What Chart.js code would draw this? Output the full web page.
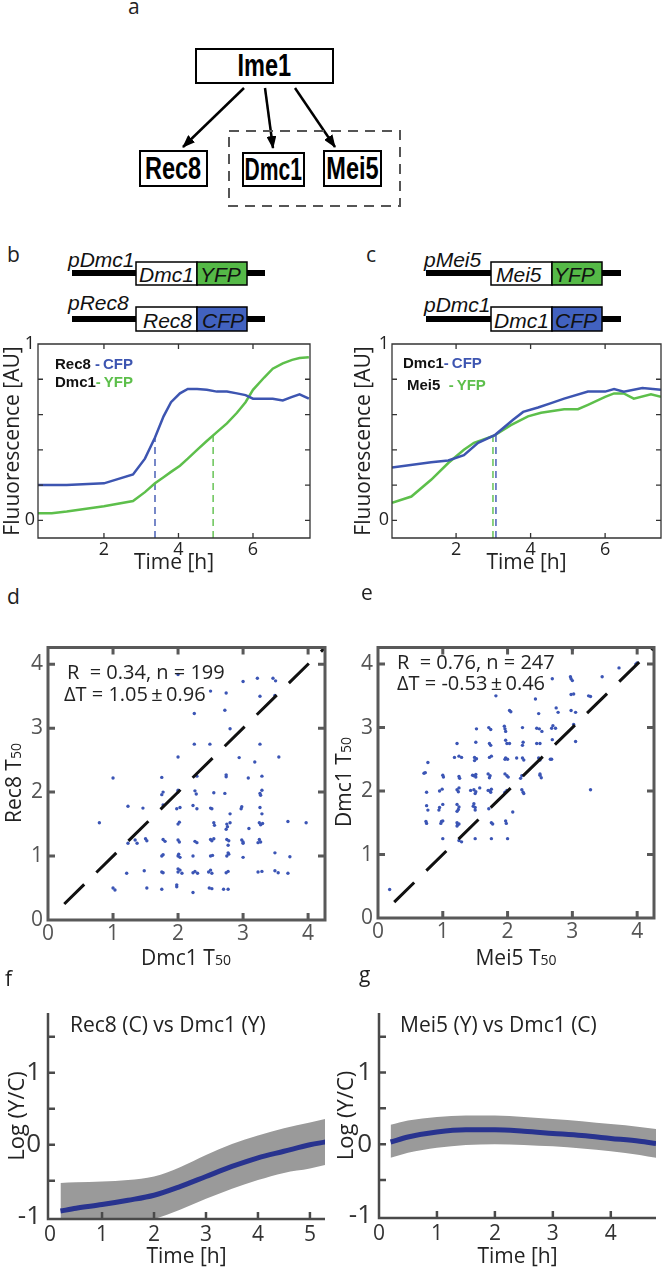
<!DOCTYPE html>
<html>
<head>
<meta charset="utf-8">
<script src="https://cdn.jsdelivr.net/npm/chart.js@4.4.1/dist/chart.umd.min.js"></script>
<style>
body{margin:0;background:#fff;width:663px;height:1271px;position:relative;overflow:hidden;font-family:'Open Sans',sans-serif;}
canvas{position:absolute;}
.t{position:absolute;white-space:pre;line-height:1;color:#222;}
.lbl{font-size:21px;}
.gene{position:absolute;border:2.5px solid #000;box-sizing:border-box;display:flex;align-items:center;justify-content:center;font-family:'Liberation Sans',Arial,sans-serif;font-weight:bold;font-size:31px;background:#fff;}
.gene span{display:inline-block;transform:scaleX(0.76);}
.it{font-family:'Liberation Sans',Arial,sans-serif;font-style:italic;font-size:21px;color:#111;}
.leg{font-family:'Liberation Sans',Arial,sans-serif;font-weight:bold;font-size:15px;color:#111;}
.ann{font-size:20px;}
.ax{font-size:21px;}
.ax small{font-size:14px;}
.rot{transform:translate(-50%,-50%) rotate(-90deg);}
.ctr{transform:translate(-50%,-50%);}
</style>
</head>
<body>

<!-- panel a + constructs -->
<svg width="663" height="340" style="position:absolute;left:0;top:0">
  <defs>
    <marker id="ah" markerWidth="13" markerHeight="10" refX="12" refY="5" orient="auto" markerUnits="userSpaceOnUse">
      <path d="M0,0 L13,5 L0,10 z" fill="#000"/>
    </marker>
  </defs>
  <line x1="244" y1="88" x2="183" y2="147" stroke="#000" stroke-width="2.5" marker-end="url(#ah)"/>
  <line x1="265" y1="88" x2="273" y2="148" stroke="#000" stroke-width="2.5" marker-end="url(#ah)"/>
  <line x1="295" y1="88" x2="335" y2="147" stroke="#000" stroke-width="2.5" marker-end="url(#ah)"/>
  <rect x="229" y="131" width="171" height="75" fill="none" stroke="#555" stroke-width="2" stroke-dasharray="10,7"/>

  <rect x="72" y="270" width="193" height="6" fill="#000"/>
  <rect x="136" y="262" width="61" height="23" fill="#fff" stroke="#000" stroke-width="1.5"/>
  <rect x="197" y="262" width="50" height="23" fill="#55b947" stroke="#000" stroke-width="1.5"/>
  <rect x="72" y="316" width="193" height="6" fill="#000"/>
  <rect x="136" y="307" width="61" height="24" fill="#fff" stroke="#000" stroke-width="1.5"/>
  <rect x="197" y="307" width="50" height="24" fill="#4262c0" stroke="#000" stroke-width="1.5"/>

  <rect x="426" y="270" width="195" height="6" fill="#000"/>
  <rect x="491" y="262" width="61" height="23" fill="#fff" stroke="#000" stroke-width="1.5"/>
  <rect x="552" y="262" width="50" height="23" fill="#55b947" stroke="#000" stroke-width="1.5"/>
  <rect x="426" y="316" width="195" height="6" fill="#000"/>
  <rect x="491" y="307" width="61" height="24" fill="#fff" stroke="#000" stroke-width="1.5"/>
  <rect x="552" y="307" width="50" height="24" fill="#4262c0" stroke="#000" stroke-width="1.5"/>
</svg>

<div class="t lbl" style="left:128px;top:-4px">a</div>
<div class="gene" style="left:195px;top:48px;width:139px;height:36px"><span>Ime1</span></div>
<div class="gene" style="left:139px;top:150px;width:69px;height:37px"><span>Rec8</span></div>
<div class="gene" style="left:242px;top:152px;width:63px;height:35px"><span style="transform:scaleX(0.68)">Dmc1</span></div>
<div class="gene" style="left:323px;top:150px;width:59px;height:37px"><span>Mei5</span></div>

<div class="t lbl" style="left:7px;top:244px">b</div>
<div class="t it" style="left:68px;top:249px">pDmc1</div>
<div class="t it" style="left:139px;top:264px">Dmc1</div>
<div class="t it" style="left:200px;top:264px">YFP</div>
<div class="t it" style="left:68px;top:292px">pRec8</div>
<div class="t it" style="left:143px;top:310px">Rec8</div>
<div class="t it" style="left:202px;top:310px">CFP</div>

<div class="t lbl" style="left:366px;top:244px">c</div>
<div class="t it" style="left:424px;top:249px">pMei5</div>
<div class="t it" style="left:496px;top:264px">Mei5</div>
<div class="t it" style="left:554px;top:264px">YFP</div>
<div class="t it" style="left:424px;top:294px">pDmc1</div>
<div class="t it" style="left:494px;top:310px">Dmc1</div>
<div class="t it" style="left:555px;top:310px">CFP</div>

<canvas id="chB"></canvas>
<canvas id="chC"></canvas>
<canvas id="chD"></canvas>
<canvas id="chE"></canvas>
<canvas id="chF"></canvas>
<canvas id="chG"></canvas>

<div class="t leg" style="left:55px;top:356px">Rec8<span style="color:#3d55b1"> -&#8201;CFP</span></div>
<div class="t leg" style="left:55px;top:374px">Dmc1<span style="color:#5dbf4b">-&#8201;YFP</span></div>
<div class="t leg" style="left:403px;top:355px">Dmc1<span style="color:#3d55b1">-&#8201;CFP</span></div>
<div class="t leg" style="left:407px;top:377px">Mei5<span style="color:#5dbf4b">  -&#8201;YFP</span></div>

<div class="t lbl" style="left:7px;top:586px">d</div>
<div class="t lbl" style="left:361px;top:582px">e</div>
<div class="t ann" style="left:67px;top:662px">R  = 0.34, n = 199</div>
<div class="t ann" style="left:64px;top:684px">ΔT = 1.05&#8201;±&#8201;0.96</div>
<div class="t ann" style="left:397px;top:652px">R  = 0.76, n = 247</div>
<div class="t ann" style="left:397px;top:673px">ΔT = -0.53&#8201;±&#8201;0.46</div>
<div class="t ax rot" style="left:13px;top:783px">Rec8 T<small>50</small></div>
<div class="t ax ctr" style="left:186px;top:957px">Dmc1 T<small>50</small></div>
<div class="t ax rot" style="left:343px;top:782px">Dmc1 T<small>50</small></div>
<div class="t ax ctr" style="left:516px;top:957px">Mei5 T<small>50</small></div>

<div class="t lbl" style="left:5px;top:968px">f</div>
<div class="t lbl" style="left:359px;top:964px">g</div>
<div class="t lbl" style="left:70px;top:1014px">Rec8 (C) vs Dmc1 (Y)</div>
<div class="t lbl" style="left:400px;top:1014px">Mei5 (Y) vs Dmc1 (C)</div>

<script>
// ---- data ----
// panel b: Rec8-CFP and Dmc1-YFP fluorescence
const bTime = [0.23, 0.6, 1, 2, 2.78, 3.1, 3.37, 3.6, 3.8, 4.04, 4.25, 4.5, 4.76, 5.03, 5.3, 5.57, 5.8, 6.0, 6.3, 6.53, 6.8, 7.05, 7.25, 7.5];
const bRec8 = [0.2, 0.2, 0.2, 0.21, 0.26, 0.35, 0.47, 0.59, 0.67, 0.72, 0.745, 0.745, 0.74, 0.73, 0.73, 0.72, 0.71, 0.69, 0.69, 0.69, 0.68, 0.70, 0.715, 0.69];
const bDmc1 = [0.04, 0.04, 0.05, 0.08, 0.11, 0.16, 0.21, 0.245, 0.275, 0.31, 0.35, 0.40, 0.45, 0.50, 0.55, 0.61, 0.67, 0.74, 0.81, 0.86, 0.89, 0.91, 0.92, 0.925];
const bT50 = [3.37, 4.93];          // Rec8, Dmc1
const bT50Level = [0.47, 0.48];

// panel c: Dmc1-CFP and Mei5-YFP fluorescence
const cDmc1Time = [0.28, 1.33, 1.79, 2.21, 2.59, 3.05, 3.53, 3.8, 4.2, 4.55, 4.9, 5.54, 6.0, 6.24, 6.5, 7.0, 7.5];
const cDmc1 = [0.30, 0.33, 0.34, 0.37, 0.44, 0.485, 0.57, 0.615, 0.64, 0.665, 0.69, 0.73, 0.73, 0.745, 0.73, 0.75, 0.74];
const cMei5Time = [0.28, 0.8, 1.33, 1.79, 2.21, 2.48, 3.02, 3.47, 3.93, 4.28, 4.9, 5.27, 5.54, 6.0, 6.24, 6.5, 6.77, 7.23, 7.5];
const cMei5 = [0.10, 0.135, 0.23, 0.325, 0.40, 0.44, 0.48, 0.54, 0.59, 0.61, 0.63, 0.63, 0.655, 0.70, 0.72, 0.72, 0.69, 0.715, 0.70];
const cT50 = [3.07, 2.99];          // Dmc1, Mei5
const cT50Level = [0.49, 0.48];

const timeTicks = [2, 4, 6];
const fluoTicks = [0, 0.2, 0.4, 0.6, 0.8, 1];
const fluoLabels = [0, 1];

// panel d: Dmc1 T50 (x) vs Rec8 T50 (y)
const dPoints = [
  [2.0,3.84],[3.0,3.73],[3.22,3.78],[3.46,3.78],[3.5,3.74],[2.5,3.58],[2.74,3.55],[3.26,3.5],[3.49,3.51],
  [2.25,3.23],[2.72,3.28],[2.8,2.99],[2.25,2.75],[2.49,2.75],[3.26,2.75],[2.0,2.55],[2.94,2.54],[3.18,2.47],[3.55,2.55],
  [1.0,2.22],[1.75,2.23],[2.29,2.25],[2.74,2.27],[2.74,2.24],[3.08,2.22],[3.29,2.25],
  [1.77,2.0],[1.75,1.96],[2.0,2.03],[2.0,2.0],[2.26,2.02],[2.28,1.97],[2.55,1.99],[2.72,1.98],[3.26,1.98],[3.29,2.03],[3.27,1.95],
  [1.77,1.8],[1.23,1.78],[1.46,1.75],[1.98,1.74],[2.03,1.76],[2.23,1.79],[2.29,1.74],[2.5,1.75],[2.52,1.74],[2.8,1.66],[2.97,1.74],[2.98,1.77],[3.26,1.76],[3.29,1.66],
  [0.79,1.52],[2.0,1.5],[2.02,1.53],[2.55,1.52],[2.56,1.48],[2.75,1.5],[2.76,1.46],[2.8,1.52],[2.74,1.42],[3.09,1.43],[3.25,1.52],[3.27,1.49],[3.3,1.51],[3.69,1.54],[3.97,1.52],
  [1.34,1.25],[1.5,1.27],[1.52,1.24],[1.77,1.26],[1.8,1.23],[2.0,1.25],[2.02,1.22],[2.26,1.23],[2.29,1.21],[2.5,1.26],[2.52,1.24],[2.55,1.27],[2.75,1.26],[2.78,1.24],[2.98,1.25],[3.0,1.22],[3.25,1.26],[3.27,1.22],
  [1.23,1.2],[1.37,1.2],[2.77,1.17],[3.0,1.2],[3.23,1.21],
  [1.75,1.0],[1.77,1.02],[2.0,1.0],[2.01,1.03],[2.03,0.98],[2.23,1.0],[2.5,1.0],[2.53,1.01],[2.75,1.0],[2.78,1.03],[3.0,0.98],[3.49,1.05],[3.72,0.99],[2.77,1.05],
  [1.21,0.73],[1.48,0.77],[1.75,0.75],[1.77,0.74],[2.0,0.75],[2.03,0.78],[2.06,0.73],[2.23,0.74],[2.26,0.76],[2.3,0.73],[2.47,0.75],[2.52,0.73],[2.5,0.78],[2.74,0.74],[2.77,0.76],[3.23,0.75],[3.29,0.76],[3.49,0.77],[3.54,0.74],[3.69,0.73],
  [2.0,0.8],[1.98,0.55],
  [1.0,0.5],[1.03,0.47],[1.52,0.5],[1.75,0.48],[1.98,0.52],[2.23,0.43],[2.48,0.5],[2.52,0.49],[2.7,0.48],[2.77,0.48]
];

// panel e: Mei5 T50 (x) vs Dmc1 T50 (y)
const ePoints = [
  [3.98,4.0],[4.0,4.02],[3.72,3.94],[3.46,3.8],[2.98,3.77],[3.0,3.74],[2.97,3.8],[2.69,3.77],[3.0,4.23],
  [2.98,3.52],[3.02,3.53],[3.25,3.5],[3.28,3.49],[2.43,3.45],[1.82,3.5],
  [2.03,3.27],[2.05,3.25],[2.48,3.22],[2.75,3.31],[2.78,3.24],[2.98,3.27],[3.05,3.24],
  [1.52,2.98],[1.71,3.0],[1.74,2.97],[1.95,3.02],[1.96,2.98],[1.97,2.94],[2.23,3.0],[2.45,2.99],[2.49,2.98],[2.53,2.94],[2.68,2.99],[2.7,3.03],[2.74,2.99],[3.02,3.05],
  [1.22,2.75],[1.51,2.77],[1.72,2.75],[1.74,2.72],[1.97,2.8],[1.99,2.75],[2.03,2.75],[2.23,2.72],[2.24,2.77],[2.45,2.75],[2.5,2.75],[2.69,2.81],[3.05,2.78],
  [0.77,2.45],[0.71,2.28],[0.73,2.29],[1.18,2.53],[1.25,2.55],[1.29,2.53],[1.49,2.53],[1.52,2.51],[1.49,2.48],[1.72,2.53],[1.75,2.55],[1.97,2.52],[2.0,2.5],[1.96,2.5],[2.14,2.52],[2.23,2.52],[2.25,2.49],[2.48,2.52],[2.5,2.49],[2.68,2.5],[2.66,2.5],
  [1.0,2.25],[1.01,2.22],[1.25,2.23],[1.26,2.2],[1.46,2.25],[1.48,2.24],[1.51,2.26],[1.51,2.22],[1.7,2.27],[1.73,2.24],[1.72,2.21],[1.96,2.27],[1.99,2.24],[2.01,2.22],[2.22,2.24],[2.2,2.2],[2.5,2.25],[2.52,2.21],[2.5,2.27],
  [0.75,1.98],[0.95,2.0],[0.99,2.03],[1.22,2.02],[1.25,2.05],[1.24,1.99],[1.43,2.01],[1.48,2.02],[1.51,1.99],[1.5,1.96],[1.57,2.05],[1.7,2.01],[1.73,2.0],[1.75,2.03],[1.74,1.98],[1.96,1.98],[1.99,2.01],[2.22,2.02],[2.24,1.98],[2.25,1.96],[3.28,2.02],
  [0.75,1.77],[0.77,1.7],[0.95,1.74],[0.94,1.7],[1.0,1.79],[1.22,1.79],[1.25,1.75],[1.24,1.71],[1.22,1.68],[1.47,1.76],[1.5,1.74],[1.5,1.7],[1.48,1.8],[1.71,1.72],[2.08,1.67],
  [0.74,1.52],[0.75,1.49],[0.98,1.52],[0.97,1.49],[1.22,1.5],[1.25,1.48],[1.22,1.45],[1.75,1.5],[1.77,1.48],[1.97,1.53],[1.98,1.49],[1.0,1.53],[1.23,1.47],
  [1.0,1.25],[1.25,1.22],[1.29,1.2],[1.5,1.25],[1.75,1.25],[2.0,1.25],
  [0.18,0.45]
];
const diagLine = [0.25, 4.3];       // y = x reference
const t50Ticks = [0, 1, 2, 3, 4];

// panel f: log(Y/C), Rec8 (C) vs Dmc1 (Y)
const fTime = [0.2, 0.5, 1, 1.5, 2, 2.5, 3, 3.5, 4, 4.5, 5, 5.3];
const fMean = [-0.92, -0.88, -0.83, -0.77, -0.70, -0.58, -0.44, -0.30, -0.18, -0.09, 0.0, 0.04];
const fUpper = [-0.53, -0.52, -0.51, -0.49, -0.44, -0.31, -0.14, 0.01, 0.13, 0.23, 0.31, 0.36];
const fLower = [-1.32, -1.26, -1.18, -1.11, -1.03, -0.9, -0.75, -0.61, -0.49, -0.39, -0.33, -0.28];

// panel g: log(Y/C), Mei5 (Y) vs Dmc1 (C)
const gTime = [0.2, 0.5, 1, 1.5, 2, 2.5, 3, 3.5, 4, 4.5, 4.78];
const gMean = [0.03, 0.10, 0.17, 0.20, 0.20, 0.18, 0.15, 0.12, 0.08, 0.04, 0.01];
const gUpper = [0.27, 0.33, 0.38, 0.40, 0.40, 0.38, 0.35, 0.32, 0.28, 0.24, 0.21];
const gLower = [-0.19, -0.12, -0.05, -0.01, 0.0, -0.01, -0.03, -0.06, -0.10, -0.15, -0.19];

const logTicks = [-1, -0.5, 0, 0.5, 1, 1.5];
const logLabels = [-1, 0, 1];
const fTimeTicks = [0, 1, 2, 3, 4, 5];
const gTimeTicks = [0, 1, 2, 3, 4];

// ---- styling ----
const blue = '#3d55b1', green = '#5dbf4b', dotBlue = '#3b55b5', navy = '#28338f', band = '#9a9a9a';

Chart.defaults.font.family = "'Open Sans', sans-serif";
Chart.defaults.animation = false;

// box / axes with inward ticks, drawn from the scales
const framePlugin = {
  id: 'frame',
  afterDatasetsDraw(chart, args, o) {
    if (!o || !o.color) return;
    const {ctx, chartArea: a} = chart;
    const xs = chart.scales.x, ys = chart.scales.y;
    ctx.save();
    ctx.strokeStyle = o.color;
    ctx.lineWidth = o.width;
    ctx.beginPath();
    if (o.box) {
      ctx.rect(a.left, a.top, a.right - a.left, a.bottom - a.top);
    } else {
      ctx.moveTo(a.left, a.top);
      ctx.lineTo(a.left, a.bottom);
      ctx.lineTo(a.right, a.bottom);
    }
    xs.ticks.forEach(t => {
      const p = xs.getPixelForValue(t.value);
      if (p < a.left + 3 || p > a.right - 3) return;
      ctx.moveTo(p, a.bottom); ctx.lineTo(p, a.bottom - o.len);
      if (o.box) { ctx.moveTo(p, a.top); ctx.lineTo(p, a.top + o.len); }
    });
    ys.ticks.forEach(t => {
      const p = ys.getPixelForValue(t.value);
      if (p < a.top + 3 || p > a.bottom - 3) return;
      ctx.moveTo(a.left, p); ctx.lineTo(a.left + o.len, p);
      if (o.box) { ctx.moveTo(a.right, p); ctx.lineTo(a.right - o.len, p); }
    });
    ctx.stroke();
    ctx.restore();
  }
};
Chart.register(framePlugin);

function place(id, l, t, w, h) {
  const c = document.getElementById(id);
  c.width = w; c.height = h;
  c.style.left = l + 'px'; c.style.top = t + 'px';
  c.style.width = w + 'px'; c.style.height = h + 'px';
  return c;
}

function axis(o) {
  return {
    type: 'linear', min: o.min, max: o.max,
    afterBuildTicks: s => { s.ticks = o.ticks.map(v => ({value: v})); },
    afterFit: s => { if (o.horizontal) s.height = o.size; else s.width = o.size; },
    grid: {display: false, drawTicks: false},
    border: {display: false},
    ticks: {
      autoSkip: false, maxRotation: 0, padding: o.pad, color: o.color, font: {size: o.font},
      callback: v => (o.show.includes(v) ? String(v) : '')
    },
    title: o.title ? {display: true, text: o.title, color: '#222', font: {size: o.titleSize}, padding: o.titlePad} : {display: false}
  };
}

const pts = (xs, ys) => xs.map((x, i) => ({x: x, y: ys[i]}));

function build(id, pos, area, type, datasets, xAxis, yAxis, frame) {
  xAxis.horizontal = true;
  xAxis.size = pos.t + pos.h - area.B;
  yAxis.size = area.L - pos.l;
  return new Chart(place(id, pos.l, pos.t, pos.w, pos.h), {
    type: type,
    data: {datasets: datasets},
    options: {
      responsive: false,
      animation: false,
      layout: {padding: {left: 0, bottom: 0, top: area.T - pos.t, right: pos.l + pos.w - area.R}},
      plugins: {legend: {display: false}, tooltip: {enabled: false}, frame: frame},
      scales: {x: axis(xAxis), y: axis(yAxis)}
    }
  });
}

function curve(data, color) {
  return {data: data, borderColor: color, borderWidth: 2.5, pointRadius: 0, tension: 0, fill: false};
}
function dropLine(x, y0, y1, color) {
  return {data: [{x: x, y: y0}, {x: x, y: y1}], borderColor: color, borderWidth: 1.4, borderDash: [7, 5], pointRadius: 0, fill: false};
}

// ---- panel b ----
build('chB', {l: 0, t: 330, w: 331, h: 250}, {L: 38, T: 344, R: 310, B: 538}, 'line', [
  curve(pts(bTime, bRec8), blue),
  curve(pts(bTime, bDmc1), green),
  dropLine(bT50[0], -0.1, bT50Level[0], blue),
  dropLine(bT50[1], -0.1, bT50Level[1], green)
],
{min: 0.23, max: 7.53, ticks: timeTicks, show: timeTicks, pad: 1, color: '#222', font: 18, title: 'Time [h]', titleSize: 21, titlePad: {top: 0, bottom: 4}},
{min: -0.1, max: 1, ticks: fluoTicks, show: fluoLabels, pad: 3, color: '#222', font: 18, title: 'Fluuorescence [AU]', titleSize: 21, titlePad: {top: 0, bottom: 0}},
{color: '#333', width: 1.3, len: 5, box: true});

// ---- panel c ----
build('chC', {l: 331, t: 330, w: 332, h: 250}, {L: 392, T: 344, R: 661, B: 538}, 'line', [
  curve(pts(cDmc1Time, cDmc1), blue),
  curve(pts(cMei5Time, cMei5), green),
  dropLine(cT50[0], -0.1, cT50Level[0], blue),
  dropLine(cT50[1], -0.1, cT50Level[1], green)
],
{min: 0.28, max: 7.5, ticks: timeTicks, show: timeTicks, pad: 1, color: '#222', font: 18, title: 'Time [h]', titleSize: 21, titlePad: {top: 0, bottom: 4}},
{min: -0.1, max: 1, ticks: fluoTicks, show: fluoLabels, pad: 3, color: '#222', font: 18, title: 'Fluuorescence [AU]', titleSize: 21, titlePad: {top: 20, bottom: 0}},
{color: '#333', width: 1.3, len: 5, box: true});

// ---- panels d, e ----
function scatterSets(points) {
  return [
    {type: 'line', data: pts(diagLine, diagLine), borderColor: '#111', borderWidth: 3, borderDash: [28, 17], pointRadius: 0, showLine: true, fill: false},
    {data: points.map(p => ({x: p[0], y: p[1]})), pointRadius: 1.7, pointBackgroundColor: dotBlue, pointBorderWidth: 0}
  ];
}
const t50Axis = () => ({min: 0, max: 4.26, ticks: t50Ticks, show: t50Ticks, pad: 1, color: '#555', font: 21});
const dY = t50Axis(); dY.pad = 5;
build('chD', {l: 0, t: 630, w: 331, h: 345}, {L: 48, T: 646, R: 325, B: 920}, 'scatter', scatterSets(dPoints),
  t50Axis(), dY, {color: '#595959', width: 3, len: 7, box: true});
const eY = t50Axis(); eY.pad = 5;
build('chE', {l: 331, t: 630, w: 332, h: 345}, {L: 378, T: 645, R: 654, B: 918}, 'scatter', scatterSets(ePoints),
  t50Axis(), eY, {color: '#595959', width: 3, len: 7, box: true});

// ---- panels f, g ----
function ratioSets(time, mean, upper, lower) {
  const smooth = {pointRadius: 0, cubicInterpolationMode: 'monotone'};
  return [
    Object.assign({data: pts(time, mean), borderColor: navy, borderWidth: 5, fill: false}, smooth),
    Object.assign({data: pts(time, upper), borderWidth: 0, borderColor: 'rgba(0,0,0,0)', backgroundColor: band, fill: '+1'}, smooth),
    Object.assign({data: pts(time, lower), borderWidth: 0, borderColor: 'rgba(0,0,0,0)', fill: false}, smooth)
  ];
}
const logAxis = () => ({min: -1.03, max: 1.83, ticks: logTicks, show: logLabels, pad: 7, color: '#333', font: 26, title: 'Log (Y/C)', titleSize: 22, titlePad: {top: 5, bottom: 0}});
build('chF', {l: 0, t: 990, w: 331, h: 281}, {L: 48, T: 1013, R: 325, B: 1219}, 'line', ratioSets(fTime, fMean, fUpper, fLower),
  {min: -0.04, max: 5.29, ticks: fTimeTicks, show: fTimeTicks, pad: 3, color: '#333', font: 21, title: 'Time [h]', titleSize: 21, titlePad: {top: 0, bottom: 1}},
  logAxis(), {color: '#4a4a4a', width: 2.5, len: 7, box: false});
const gY = logAxis(); gY.titlePad = {top: 3, bottom: 0};
build('chG', {l: 331, t: 990, w: 332, h: 281}, {L: 379, T: 1013, R: 656, B: 1218}, 'line', ratioSets(gTime, gMean, gUpper, gLower),
  {min: 0, max: 4.78, ticks: gTimeTicks, show: gTimeTicks, pad: 3, color: '#333', font: 21, title: 'Time [h]', titleSize: 21, titlePad: {top: 0, bottom: 1}},
  gY, {color: '#4a4a4a', width: 2.5, len: 7, box: false});
</script>
</body>
</html>
